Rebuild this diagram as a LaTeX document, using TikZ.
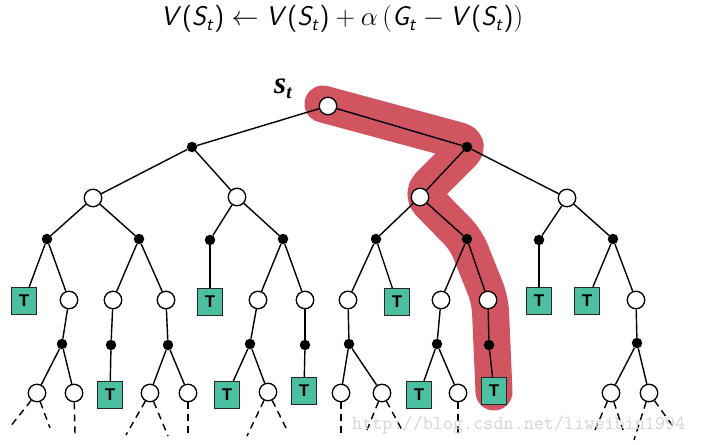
\RequirePackage{fix-cm}
\documentclass[tikz,border=0pt]{standalone}
\usepackage{fontspec}
\newfontfamily\lsans{Liberation Sans}
\newfontfamily\lserif{Liberation Serif}
\DeclareMathAlphabet{\msl}{OT1}{cmss}{m}{sl}
\newcommand\sop{\textsf{(}}
\newcommand\scp{\textsf{)}}
\definecolor{hl}{RGB}{209,85,96}
\definecolor{tealbox}{RGB}{76,191,160}
\begin{document}
\begin{tikzpicture}[x=1pt,y=-1pt,
  st/.style={circle,draw,fill=white,line width=1.3pt,minimum size=17.5pt,inner sep=0pt},
  dt/.style={circle,fill=black,minimum size=10.5pt,inner sep=0pt},
  tb/.style={rectangle,draw=black!85,fill=tealbox,line width=1.2pt,minimum width=25pt,minimum height=27pt,inner sep=0pt,font=\lsans\bfseries\fontsize{17}{17}\selectfont},
  ed/.style={line width=1.4pt},
  dsh/.style={line width=1.4pt,dash pattern=on 7pt off 5pt}]
\useasboundingbox (0,0) rectangle (714,444);
% highlight band
\draw[hl,line width=37pt,line cap=round,line join=round,rounded corners=12pt]
  (323,104) -- (471,144) -- (421,194) -- (466,240) -- (490,300) -- (494,392);
% formula
\node[anchor=base,inner sep=0pt] (eq) at (342,26) {\fontsize{27}{30}\selectfont
 $\msl{V}\sop\msl{S}_{\msl{t}}\scp \leftarrow \msl{V}\sop\msl{S}_{\msl{t}}\scp + \alpha\,\big(\msl{G}_{\msl{t}} - \msl{V}\sop\msl{S}_{\msl{t}}\scp\big)$};
% root
\node[st] (r) at (328,106) {};
\node[anchor=base west,inner sep=0pt] (lbl) at (274,93) {\lserif\bfseries\itshape\fontsize{31}{31}\selectfont s\raisebox{-5pt}{\fontsize{19}{19}\selectfont t}};
% level 1
\node[dt] (a1) at (192,147) {};
\node[dt] (a2) at (467,147) {};
% level 2
\foreach \n/\x/\y in {b1/93/198,b2/237/197,b3/420/197,b4/567/198}
  \node[st] (\n) at (\x,\y) {};
% level 3
\foreach \n/\x/\y in {c1/47/239,c2/139/239,c3/210/240,c4/283/239,c5/376/239,c6/467/239,c7/539/240,c8/613/239}
  \node[dt] (\n) at (\x,\y) {};
% level 4
\foreach \n/\x/\y in {d2/69/300,d3/113/300,d4/166/300,d6/258/300,d7/305/300,d8/348/300,d10/441/300,d11/488/300,d14/636/300}
  \node[st] (\n) at (\x,\y) {};
\foreach \n/\x/\y in {d1/24/301,d5/210/302,d9/397/302,d12/539/301,d13/587/301}
  \node[tb] (\n) at (\x,\y) {T};
% level 5
\foreach \n/\x/\y in {e1/62/344,e2/111/345,e3/168/345,e4/250/344,e5/305/345,e6/349/344,e7/437/344,e8/489/345,e9/637/343}
  \node[dt] (\n) at (\x,\y) {};
% level 6
\foreach \n/\x/\y in {f1/37/393,f2/74/393,f4/150/393,f5/188/393,f7/268/392,f9/341/393,f10/382/393,f12/458/393,f14/611/393,f15/649/393}
  \node[st] (\n) at (\x,\y) {};
\foreach \n/\x/\y in {f3/110/395,f6/227/395,f8/304/391,f11/419/395,f13/494/391}
  \node[tb] (\n) at (\x,\y) {T};
% edges
\foreach \p/\q in {r/a1,r/a2,a1/b1,a1/b2,a2/b3,a2/b4,
  b1/c1,b1/c2,b2/c3,b2/c4,b3/c5,b3/c6,b4/c7,b4/c8,
  c1/d1,c1/d2,c2/d3,c2/d4,c3/d5,c4/d6,c4/d7,c5/d8,c5/d9,c6/d10,c6/d11,c7/d12,c8/d13,c8/d14,
  d2/e1,d3/e2,d4/e3,d6/e4,d7/e5,d8/e6,d10/e7,d11/e8,d14/e9,
  e1/f1,e1/f2,e2/f3,e3/f4,e3/f5,e4/f6,e4/f7,e5/f8,e6/f9,e6/f10,e7/f11,e7/f12,e8/f13,e9/f14,e9/f15}
  \draw[ed] (\p) -- (\q);
% dashed continuations
\foreach \n/\s/\x/\y in {g1/f1/10/427,g2/f1/50/428,g3/f2/75/434,g4/f4/126/435,g5/f4/168/436,
  g6/f5/188/438,g7/f7/247/436,g8/f7/288/432,g9/f9/341/438,g10/f10/367/430,g11/f10/402/430,
  g12/f12/458/435,g13/f14/595/430,g14/f14/623/430,g15/f15/634/440,g16/f15/672/425}
{
  \coordinate (\n) at (\x,\y);
  \draw[dsh] (\s) -- (\n);
}
% watermark
\node[anchor=base west,inner sep=0pt,text=black!17,font=\ttfamily\fontsize{19.6}{20}\selectfont] (wm) at (352,429) {http://blog.csdn.net/liweibin1994};
\end{tikzpicture}
\end{document}
